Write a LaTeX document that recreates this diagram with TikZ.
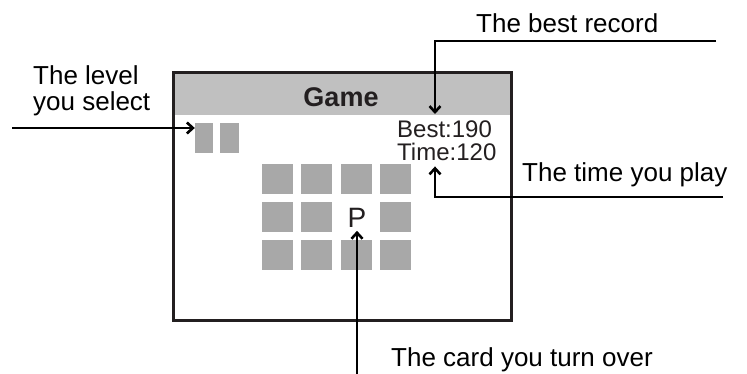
\documentclass[tikz,border=0pt]{standalone}
\usepackage{fontspec}
\setmainfont{Liberation Sans}
\usetikzlibrary{arrows.meta}
\definecolor{cardgray}{HTML}{A8A8A8}
\definecolor{bargray}{HTML}{C0C0C0}
\definecolor{framecol}{HTML}{231F20}
\tikzset{
  card/.style={fill=cardgray, minimum width=31pt, minimum height=30pt, inner sep=0pt},
  tag/.style={font=\fontsize{26}{26}\selectfont, inner sep=0pt},
  pointer/.style={-{Straight Barb[length=6pt,width=11pt]}, line width=2.6pt},
}
\begin{document}
\begin{tikzpicture}[x=1pt, y=-1pt]
        \useasboundingbox (0,0) rectangle (747,374);
        % free ends of the pointers
        \coordinate (bestEnd) at (716,41);
        \coordinate (bestTurn) at (435,41);
        \coordinate (timeEnd) at (723,197);
        \coordinate (timeTurn) at (435,197);
        \coordinate (levelEnd) at (12,128);
        \coordinate (cardEnd) at (355,374);
        \coordinate (barBottom) at (342,114);
        % window
        \fill[bargray] (173,73) rectangle (511,115);
        \node[font=\fontsize{27}{27}\selectfont\bfseries, text=framecol, anchor=base, inner sep=0pt] (title) at (341,107) {Game};
        \draw[framecol, line width=3pt] (173,73) rectangle (511,320);
        % level squares
        \node[card, minimum width=18pt] (lvA) at (204,138) {};
        \node[card, minimum width=19pt] (lvB) at (229.5,138) {};
        % cards
        \foreach \c in {1,...,4} {
            \node[card] (c1\c) at ({277.5+39.3*(\c-1)},179) {};
            \node[card] (c3\c) at ({277.5+39.3*(\c-1)},255) {};
        }
        \foreach \c in {1,2,4}
            \node[card] (c2\c) at ({277.5+39.3*(\c-1)},217) {};
        \node[font=\fontsize{28}{28}\selectfont, text=framecol, inner sep=3pt] (P) at (357,218) {P};
        % scores
        \node[font=\fontsize{24}{24}\selectfont, text=framecol, anchor=base west, inner sep=0pt] (best) at (397,138) {Best:190};
        \node[font=\fontsize{24}{24}\selectfont, text=framecol, anchor=base west, inner sep=5pt] (time) at (392,161) {Time:120};
        % labels
        \node[tag, anchor=base west] (lblBest) at (476,33) {The best record};
        \node[tag, anchor=base west] (lblTime) at (522,182) {The time you play};
        \node[tag, anchor=base west] (lblCard) at (391,366) {The card you turn over};
        \node[tag, anchor=north west, align=left] (lblLevel) at (33,65) {The level\\you select};
        % pointers
        \draw[pointer] (bestEnd) -- (bestTurn) -- (bestTurn |- barBottom);
        \draw[pointer] (timeEnd) -- (timeTurn) -- (timeTurn |- time.south);
        \draw[pointer] (levelEnd) -- (levelEnd -| lvA.west);
        \draw[pointer] (P.south |- cardEnd) -- (P.south);
    \end{tikzpicture}
\end{document}
